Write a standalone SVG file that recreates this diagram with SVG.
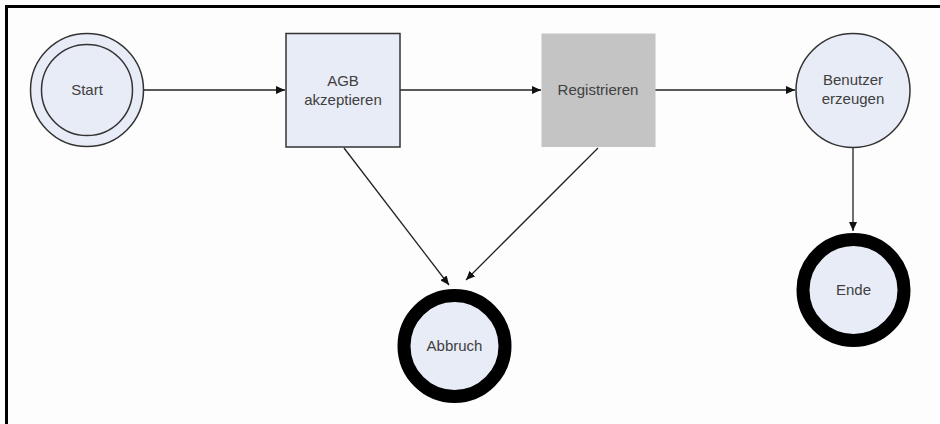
<svg xmlns="http://www.w3.org/2000/svg" width="940" height="424" viewBox="0 0 940 424">
  <defs>
    <marker id="arrow" markerWidth="9" markerHeight="8" refX="9" refY="4" orient="auto" markerUnits="userSpaceOnUse">
      <path d="M0,0 L9,4 L0,8 Z" fill="#111"/>
    </marker>
    <style>
      .lbl { font-family: "Liberation Sans", Arial, sans-serif; font-size: 15px; fill: #404040; text-anchor: middle; }
      .state { fill: #e8ecf6; stroke: #333; stroke-width: 1.5; }
      .final { fill: #e8ecf6; stroke: #000; stroke-width: 13; }
      .edge { stroke: #222; stroke-width: 1.3; fill: none; marker-end: url(#arrow); }
    </style>
  </defs>

  <rect x="0" y="0" width="940" height="424" fill="#fdfdfd"/>
  <!-- frame (top and left edges) -->
  <line x1="5" y1="6.5" x2="940" y2="6.5" stroke="#000" stroke-width="3"/>
  <line x1="6.5" y1="5" x2="6.5" y2="424" stroke="#000" stroke-width="3"/>

  <g id="connectors">
    <line class="edge" x1="144" y1="90" x2="285" y2="90"/>
    <line class="edge" x1="400" y1="90" x2="541" y2="90"/>
    <line class="edge" x1="655" y1="90" x2="795" y2="90"/>
    <line class="edge" x1="853" y1="148" x2="853" y2="231"/>
    <line class="edge" x1="344" y1="148" x2="449" y2="285"/>
    <line class="edge" x1="598" y1="148" x2="466" y2="280"/>
  </g>

  <g id="start">
    <circle class="state" cx="87" cy="90" r="56.5"/>
    <circle cx="87" cy="90" r="45.5" fill="none" stroke="#333" stroke-width="1.5"/>
    <text class="lbl" x="87" y="95">Start</text>
  </g>

  <g id="agb">
    <rect class="state" x="286" y="33.5" width="114" height="113.5"/>
    <text class="lbl" x="343" y="86">AGB</text>
    <text class="lbl" x="343" y="105">akzeptieren</text>
  </g>

  <g id="registrieren">
    <rect x="541.5" y="33.5" width="114" height="113.5" fill="#c4c4c4"/>
    <text class="lbl" x="598" y="95">Registrieren</text>
  </g>

  <g id="benutzer">
    <circle class="state" cx="853" cy="90.5" r="57"/>
    <text class="lbl" x="853" y="85">Benutzer</text>
    <text class="lbl" x="853" y="104">erzeugen</text>
  </g>

  <g id="abbruch">
    <circle class="final" cx="454.5" cy="346" r="50.5"/>
    <text class="lbl" x="454.5" y="351">Abbruch</text>
  </g>

  <g id="ende">
    <circle class="final" cx="853.5" cy="290" r="50.5"/>
    <text class="lbl" x="853.5" y="295">Ende</text>
  </g>
</svg>
